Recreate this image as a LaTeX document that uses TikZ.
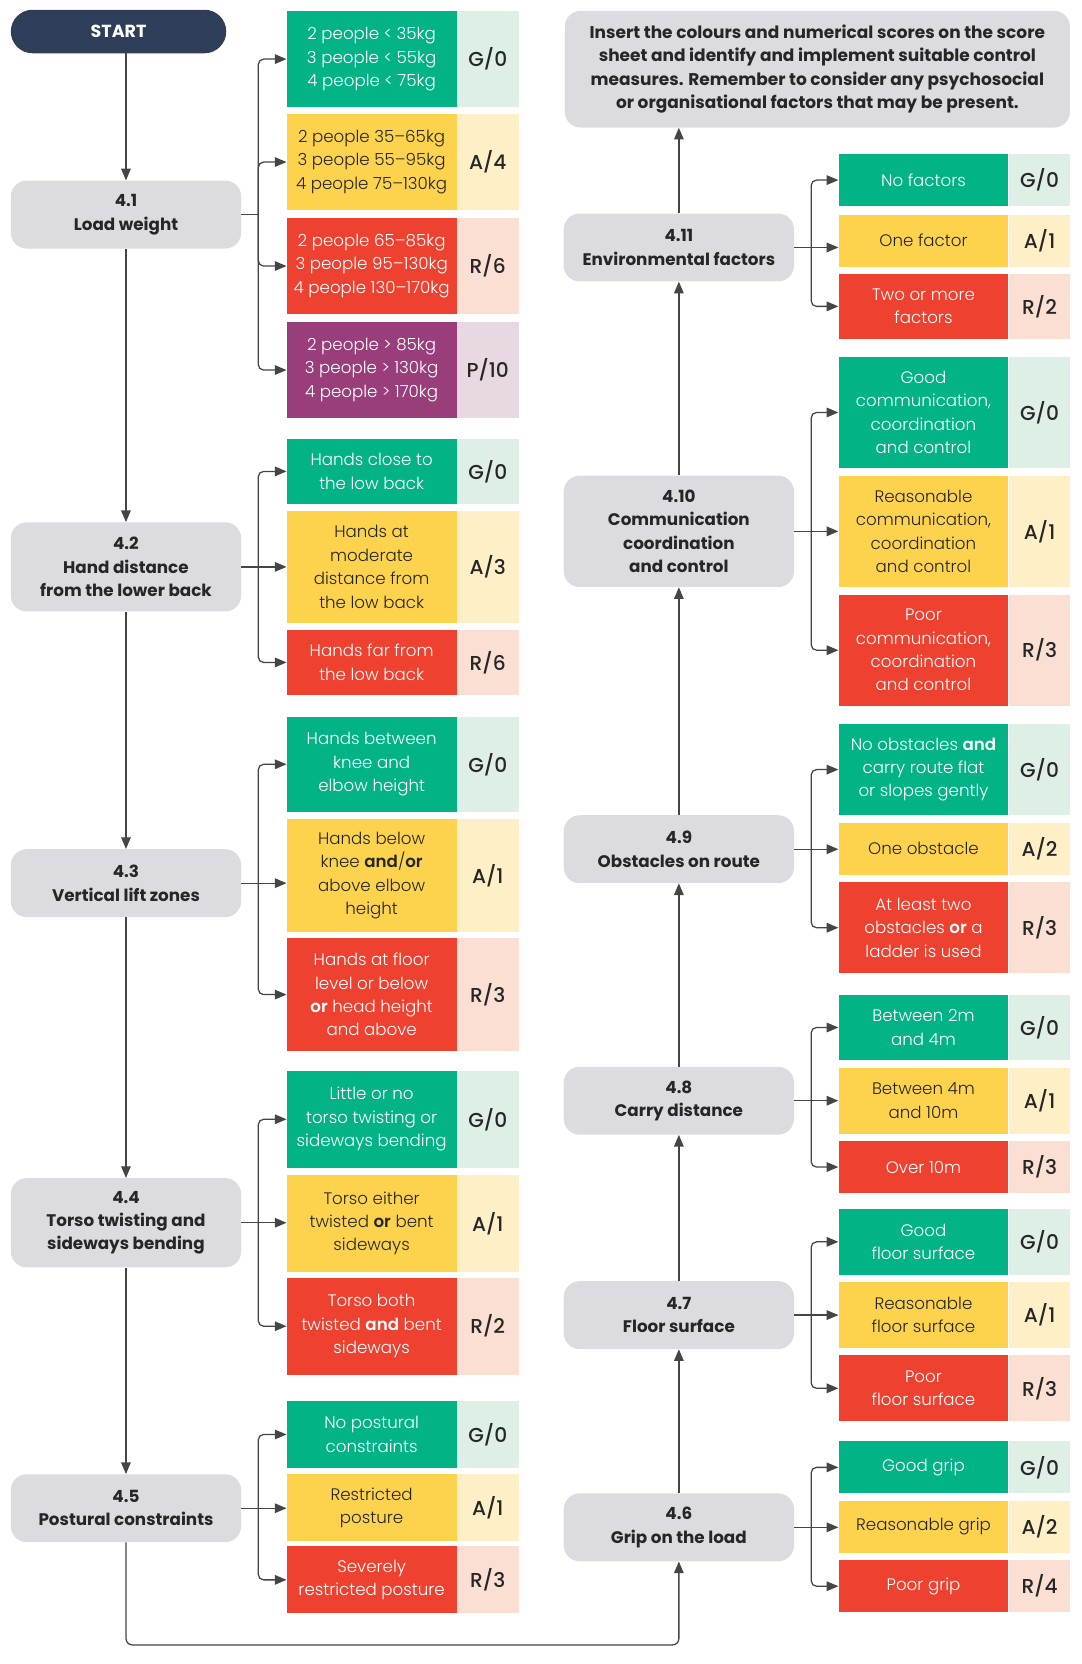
\documentclass[tikz,border=0pt]{standalone}
\usepackage{fontspec}
\setmainfont{Poppins}
\newfontfamily\scorefont{Poppins Medium}
\newfontfamily\lightfont{Poppins Light}[BoldFont={Poppins SemiBold}]
\newfontfamily\semifont{Poppins SemiBold}
\usetikzlibrary{arrows.meta}
\definecolor{navy}{HTML}{2E3D58}
\definecolor{boxgray}{HTML}{DCDCE0}
\definecolor{ink}{HTML}{262626}
\definecolor{linec}{HTML}{454545}
\definecolor{cg}{HTML}{02B386}
\definecolor{ca}{HTML}{FDD34E}
\definecolor{cr}{HTML}{EE4130}
\definecolor{cp}{HTML}{9A3E7B}
\definecolor{lg}{HTML}{DEF0E6}
\definecolor{la}{HTML}{FEEFC7}
\definecolor{lr}{HTML}{FBDFD2}
\definecolor{lp}{HTML}{E8D8E2}
\colorlet{tg}{white}
\colorlet{ta}{ink}
\colorlet{tr}{white}
\colorlet{tp}{white}
\tikzset{
  graybox/.style={fill=boxgray, rounded corners=15pt, inner sep=0pt, align=center, text=ink,
    font=\fontsize{15.8}{22}\selectfont\bfseries, anchor=north west, minimum width=217pt},
  optbox/.style={inner sep=0pt, align=center, font=\fontsize{15.7}{22}\selectfont\lightfont,
    anchor=north west, minimum width=160pt},
  scorebox/.style={inner sep=0pt, align=center, text=ink, font=\fontsize{19}{22}\selectfont\scorefont,
    anchor=north west, minimum width=58pt},
  flow/.style={draw=linec, line width=1.2pt, -{Triangle[length=11pt,width=9pt]}},
  link/.style={draw=linec, line width=1.2pt},
}
% #1 name, #2 x, #3 ytop, #4 ybottom, #5 text
\newcommand\gbox[5]{%
  \node[graybox, minimum height={(#4-#3)*1pt}] (#1) at (#2,#3) {#5};}
% #1 name, #2 x, #3 ytop, #4 ybottom, #5 colour letter, #6 text, #7 score
\newcommand\opt[7]{%
  \node[optbox, fill=c#5, text=t#5, minimum height={(#4-#3)*1pt}] (#1) at (#2,#3) {#6};
  \node[scorebox, fill=l#5, minimum height={(#4-#3)*1pt}] (#1s) at (#1.north east) {#7};}
% branch: #1 box, #2 top option, #3 middle option, #4 bottom option
\newcommand\branch[4]{%
  \path (#1.east) ++(16,0) coordinate (#1sp);
  \draw[link] (#1.east) -- (#1sp);
  \draw[flow, rounded corners=5pt] (#1sp) |- (#2.west);
  \draw[flow] (#1.east) -- (#1.east -| #3.west);
  \draw[flow, rounded corners=5pt] (#1sp) |- (#4.west);}
\begin{document}
\begin{tikzpicture}[x=1pt,y=-1pt]
\useasboundingbox (0,0) rectangle (1019,1568);
% ---------- left column ----------
\node[fill=navy, rounded corners=20.5pt, minimum width=203pt, minimum height=41pt, inner sep=0pt,
  anchor=north west, text=white, font=\fontsize{16.5}{22}\selectfont\bfseries] (start) at (10,9) {START};
\gbox{b41}{10}{170}{234}{4.1\\Load weight}
\gbox{b42}{10}{492}{576}{4.2\\Hand distance\\from the lower back}
\gbox{b43}{10}{800}{864}{4.3\\Vertical lift zones}
\gbox{b44}{10}{1110}{1194}{4.4\\Torso twisting and\\sideways bending}
\gbox{b45}{10}{1389}{1453}{4.5\\Postural constraints}
% options 4.1
\opt{o41g}{270}{10}{101}{g}{2 people < 35kg\\3 people < 55kg\\4 people < 75kg}{G/0}
\opt{o41a}{270}{107}{198}{a}{2 people 35–65kg\\3 people 55–95kg\\4 people 75–130kg}{A/4}
\opt{o41r}{270}{205}{296}{r}{2 people 65–85kg\\3 people 95–130kg\\4 people 130–170kg}{R/6}
\opt{o41p}{270}{303}{394}{p}{2 people > 85kg\\3 people > 130kg\\4 people > 170kg}{P/10}
% options 4.2
\opt{o42g}{270}{413}{475}{g}{Hands close to\\the low back}{G/0}
\opt{o42a}{270}{481}{587}{a}{Hands at\\moderate\\distance from\\the low back}{A/3}
\opt{o42r}{270}{593}{655}{r}{Hands far from\\the low back}{R/6}
% options 4.3
\opt{o43g}{270}{675}{765}{g}{Hands between\\knee and\\elbow height}{G/0}
\opt{o43a}{270}{772}{878}{a}{Hands below\\knee \textbf{and}/\textbf{or}\\above elbow\\height}{A/1}
\opt{o43r}{270}{884}{990}{r}{Hands at floor\\level or below\\\textbf{or} head height\\and above}{R/3}
% options 4.4
\opt{o44g}{270}{1009}{1100}{g}{Little or no\\torso twisting or\\sideways bending}{G/0}
\opt{o44a}{270}{1107}{1198}{a}{Torso either\\twisted \textbf{or} bent\\sideways}{A/1}
\opt{o44r}{270}{1204}{1295}{r}{Torso both\\twisted \textbf{and} bent\\sideways}{R/2}
% options 4.5
\opt{o45g}{270}{1320}{1383}{g}{No postural\\constraints}{G/0}
\opt{o45a}{270}{1389}{1452}{a}{Restricted\\posture}{A/1}
\opt{o45r}{270}{1457}{1520}{r}{Severely\\restricted posture}{R/3}
% ---------- right column ----------
\node[fill=boxgray, rounded corners=15pt, minimum width=476pt, minimum height=110pt, inner sep=0pt,
  anchor=north west, align=center, text=ink, font=\fontsize{16}{22}\selectfont\bfseries] (note) at (532,10)
  {Insert the colours and numerical scores on the score\\sheet and identify and implement suitable control\\measures. Remember to consider any psychosocial\\or organisational factors that may be present.};
\gbox{b411}{531}{201}{265}{4.11\\Environmental factors}
\gbox{b410}{531}{448}{553}{4.10\\Communication\\coordination\\and control}
\gbox{b49}{531}{768}{832}{4.9\\Obstacles on route}
\gbox{b48}{531}{1005}{1069}{4.8\\Carry distance}
\gbox{b47}{531}{1207}{1271}{4.7\\Floor surface}
\gbox{b46}{531}{1407}{1471}{4.6\\Grip on the load}
% options 4.11
\opt{o411g}{790}{145}{194}{g}{No factors}{G/0}
\opt{o411a}{790}{202}{251}{a}{One factor}{A/1}
\opt{o411r}{790}{258}{319}{r}{Two or more\\factors}{R/2}
% options 4.10
\opt{o410g}{790}{336}{441}{g}{Good\\communication,\\coordination\\and control}{G/0}
\opt{o410a}{790}{448}{553}{a}{Reasonable\\communication,\\coordination\\and control}{A/1}
\opt{o410r}{790}{560}{665}{r}{Poor\\communication,\\coordination\\and control}{R/3}
% options 4.9
\opt{o49g}{790}{682}{768}{g}{No obstacles \textbf{and}\\carry route flat\\or slopes gently}{G/0}
\opt{o49a}{790}{775}{824}{a}{One obstacle}{A/2}
\opt{o49r}{790}{831}{917}{r}{At least two\\obstacles \textbf{or} a\\ladder is used}{R/3}
% options 4.8
\opt{o48g}{790}{937}{999}{g}{Between 2m\\and 4m}{G/0}
\opt{o48a}{790}{1006}{1068}{a}{Between 4m\\and 10m}{A/1}
\opt{o48r}{790}{1075}{1124}{r}{Over 10m}{R/3}
% options 4.7
\opt{o47g}{790}{1139}{1201}{g}{Good\\floor surface}{G/0}
\opt{o47a}{790}{1208}{1270}{a}{Reasonable\\floor surface}{A/1}
\opt{o47r}{790}{1277}{1339}{r}{Poor\\floor surface}{R/3}
% options 4.6
\opt{o46g}{790}{1358}{1407}{g}{Good grip}{G/0}
\opt{o46a}{790}{1414}{1463}{a}{Reasonable grip}{A/2}
\opt{o46r}{790}{1470}{1519}{r}{Poor grip}{R/4}
% ---------- connectors ----------
\draw[flow] (start.south -| b41.north) -- (b41.north);
\draw[flow] (b41) -- (b42);
\draw[flow] (b42) -- (b43);
\draw[flow] (b43) -- (b44);
\draw[flow] (b44) -- (b45);
\coordinate (bot) at (380,1550);
\draw[flow, rounded corners=6pt] (b45.south) |- (bot) -| (b46.south);
\draw[flow] (b46) -- (b47);
\draw[flow] (b47) -- (b48);
\draw[flow] (b48) -- (b49);
\draw[flow] (b49) -- (b410);
\draw[flow] (b410) -- (b411);
\draw[flow] (b411.north) -- (b411.north |- note.south);
% 4.1 branch (four options)
\path (b41.east) ++(16,0) coordinate (b41sp);
\draw[link] (b41.east) -- (b41sp);
\foreach \o in {o41g,o41a,o41r,o41p} \draw[flow, rounded corners=5pt] (b41sp) |- (\o.west);
\branch{b42}{o42g}{o42a}{o42r}
\branch{b43}{o43g}{o43a}{o43r}
\branch{b44}{o44g}{o44a}{o44r}
\branch{b45}{o45g}{o45a}{o45r}
\branch{b411}{o411g}{o411a}{o411r}
\branch{b410}{o410g}{o410a}{o410r}
\branch{b49}{o49g}{o49a}{o49r}
\branch{b48}{o48g}{o48a}{o48r}
\branch{b47}{o47g}{o47a}{o47r}
\branch{b46}{o46g}{o46a}{o46r}
\end{tikzpicture}
\end{document}
